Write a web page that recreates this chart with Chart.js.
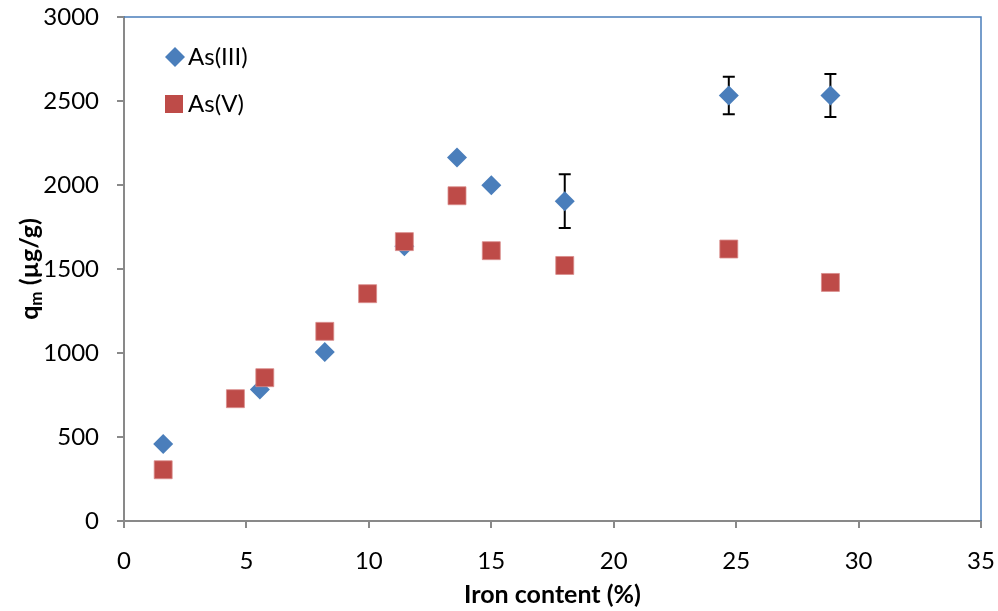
<!DOCTYPE html>
<html>
<head>
<meta charset="utf-8">
<script src="https://cdn.jsdelivr.net/npm/chart.js@4.4.1/dist/chart.umd.min.js"></script>
<style>
  html, body { margin: 0; padding: 0; background: #fff; }
  #wrap { width: 998px; height: 611px; }
</style>
</head>
<body>
<div id="wrap"><canvas id="qmChart" width="998" height="611"></canvas></div>
<script>
// Iron content (%) and maximum capacity q_m (ug/g) for each sorbent
const ironAsIII = [1.6, 5.55, 8.2, 11.45, 13.6, 15.0, 18.0, 24.7, 28.85];
const qmAsIII = [458, 783, 1006, 1635, 2164, 1998, 1904, 2533, 2533];
// standard deviation, only reported for the last three As(III) samples
const sdAsIII = [null, null, null, null, null, null, 160, 112, 128];

const ironAsV = [1.6, 4.55, 5.75, 8.2, 9.95, 11.45, 13.6, 15.0, 18.0, 24.7, 28.85];
const qmAsV = [305, 728, 853, 1129, 1353, 1663, 1936, 1609, 1521, 1619, 1420];

const seriesNames = ['As(III)', 'As(V)'];
const blue = '#4A7EBB';
const red = '#BE4B48';
const axisGray = '#898989';
const fontFamily = 'Lato, "Open Sans", sans-serif';

const toPoints = (xs, ys) => xs.map((x, i) => ({ x: x, y: ys[i] }));

// vertical error bars with caps, drawn under the markers
const errorBars = {
  id: 'errorBars',
  beforeDatasetsDraw(chart) {
    const { ctx, scales: { x, y } } = chart;
    ctx.save();
    ctx.strokeStyle = '#000';
    ctx.lineWidth = 2;
    sdAsIII.forEach((sd, i) => {
      if (sd == null) return;
      const px = x.getPixelForValue(ironAsIII[i]);
      const top = y.getPixelForValue(qmAsIII[i] + sd);
      const bot = y.getPixelForValue(qmAsIII[i] - sd);
      ctx.beginPath();
      ctx.moveTo(px, top); ctx.lineTo(px, bot);
      ctx.moveTo(px - 6, top); ctx.lineTo(px + 6, top);
      ctx.moveTo(px - 6, bot); ctx.lineTo(px + 6, bot);
      ctx.stroke();
    });
    ctx.restore();
  }
};

// blue top/right frame, legend inside the plot and the two axis titles
const decorations = {
  id: 'decorations',
  afterDraw(chart) {
    const { ctx, chartArea: a } = chart;
    ctx.save();
    ctx.strokeStyle = blue;
    ctx.lineWidth = 1.5;
    ctx.beginPath();
    ctx.moveTo(a.left, a.top);
    ctx.lineTo(a.right, a.top);
    ctx.lineTo(a.right, a.bottom);
    ctx.stroke();

    // legend
    ctx.font = '24px ' + fontFamily;
    ctx.textBaseline = 'middle';
    ctx.textAlign = 'left';
    ctx.fillStyle = blue;
    ctx.beginPath();
    ctx.moveTo(175, 47); ctx.lineTo(185, 57); ctx.lineTo(175, 67); ctx.lineTo(165, 57);
    ctx.closePath();
    ctx.fill();
    ctx.fillStyle = red;
    ctx.fillRect(165, 95, 18, 18);
    ctx.fillStyle = '#000';
    ctx.fillText(seriesNames[0], 188, 57);
    ctx.fillText(seriesNames[1], 188, 104);

    // x title
    ctx.font = 'bold 25px ' + fontFamily;
    ctx.textAlign = 'center';
    ctx.fillText('Iron content (%)', (a.left + a.right) / 2, 595);

    // y title with subscript m
    ctx.translate(30, 269);
    ctx.rotate(-Math.PI / 2);
    const q = 'q', sub = 'm', rest = ' (\u00b5g/g)';
    const big = 'bold 25px ' + fontFamily, small = 'bold 17px ' + fontFamily;
    ctx.font = big;
    const wq = ctx.measureText(q).width;
    const wr = ctx.measureText(rest).width;
    ctx.font = small;
    const ws = ctx.measureText(sub).width;
    const xs = -(wq + ws + wr) / 2;
    ctx.textAlign = 'left';
    ctx.font = big;
    ctx.fillText(q, xs, 0);
    ctx.font = small;
    ctx.fillText(sub, xs + wq, 7);
    ctx.font = big;
    ctx.fillText(rest, xs + wq + ws, 0);
    ctx.restore();
  }
};

new Chart(document.getElementById('qmChart'), {
  type: 'scatter',
  data: {
    datasets: [
      {
        label: seriesNames[0],
        data: toPoints(ironAsIII, qmAsIII),
        pointStyle: 'rectRot',
        pointRadius: 10,
        pointHoverRadius: 10,
        backgroundColor: blue,
        borderColor: blue,
        borderWidth: 0,
        order: 2
      },
      {
        label: seriesNames[1],
        data: toPoints(ironAsV, qmAsV),
        pointStyle: 'rect',
        pointRadius: 12.7,
        pointHoverRadius: 12.7,
        backgroundColor: red,
        borderColor: '#D98C8A',
        borderWidth: 0.8,
        order: 1
      }
    ]
  },
  plugins: [errorBars, decorations],
  options: {
    responsive: false,
    animation: false,
    layout: { padding: { top: 17, right: 17, left: 0, bottom: 0 } },
    plugins: { legend: { display: false }, tooltip: { enabled: false } },
    scales: {
      x: {
        type: 'linear',
        min: 0,
        max: 35,
        afterFit: s => { s.height = 90; s.paddingLeft = 0; s.paddingRight = 0; },
        border: { color: axisGray, width: 2 },
        grid: { drawOnChartArea: false, color: axisGray, lineWidth: 2, tickLength: 7 },
        ticks: { stepSize: 5, color: '#000', padding: 19, font: { family: fontFamily, size: 24 },
          callback: v => String(v) }
      },
      y: {
        min: 0,
        max: 3000,
        afterFit: s => { s.width = 124; s.paddingTop = 0; s.paddingBottom = 0; },
        border: { color: axisGray, width: 2 },
        grid: { drawOnChartArea: false, color: axisGray, lineWidth: 2, tickLength: 7 },
        ticks: { stepSize: 500, color: '#000', padding: 18, font: { family: fontFamily, size: 24 },
          callback: v => String(v) }
      }
    }
  }
});
</script>
</body>
</html>
